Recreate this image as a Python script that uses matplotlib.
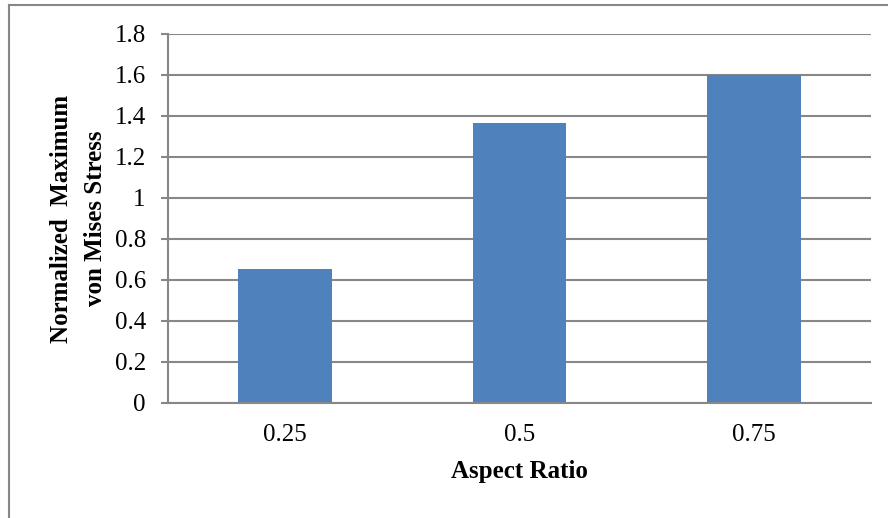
import matplotlib.pyplot as plt
import numpy as np

categories = ["0.25", "0.5", "0.75"]
values = [0.655, 1.365, 1.60]
yticks = [0, 0.2, 0.4, 0.6, 0.8, 1, 1.2, 1.4, 1.6, 1.8]
ytick_labels = ["0", "0.2", "0.4", "0.6", "0.8", "1", "1.2", "1.4", "1.6", "1.8"]

plt.rcParams['font.family'] = ['Liberation Serif', 'DejaVu Serif']

fig = plt.figure(figsize=(8.88, 5.18), dpi=100)
ax = fig.add_axes([168/888, 1 - 402.7/518, (871 - 168)/888, (402.7 - 34)/518])

x = np.arange(len(categories))
ax.bar(x, values, width=0.4, color='#4F81BD', zorder=2)

ax.set_xlim(-0.5, 2.5)
ax.set_ylim(0, 1.8)
ax.set_yticks(yticks)
ax.set_yticklabels(ytick_labels)
ax.set_xticks(x)
ax.set_xticklabels(categories)
ax.grid(axis='y', color='#878787', linewidth=1.5, zorder=0)
ax.set_axisbelow(True)

for s in ['top', 'right']:
    ax.spines[s].set_visible(False)
for s in ['left', 'bottom']:
    ax.spines[s].set_color('#878787')
    ax.spines[s].set_linewidth(1.5)

ax.tick_params(axis='y', length=5, width=1.5, color='#878787', pad=11, labelsize=18)
ax.tick_params(axis='x', length=0, pad=15, labelsize=18)

ax.set_xlabel("Aspect Ratio", fontsize=18, fontweight='bold')
ax.xaxis.set_label_coords(0.5, -0.155)

fig.text(78.5/888, 1 - 218.5/518, "Normalized  Maximum\nvon Mises Stress",
         rotation=90, ha='center', va='center', multialignment='center',
         fontsize=18, fontweight='bold', linespacing=1.6)

# chart border (right/bottom edges fall outside the image)
fig.add_artist(plt.Line2D([9/888, 9/888], [0, 1 - 5/518], transform=fig.transFigure,
                          color='#878787', linewidth=1.5))
fig.add_artist(plt.Line2D([9/888, 1], [1 - 5/518, 1 - 5/518], transform=fig.transFigure,
                          color='#878787', linewidth=1.5))

fig.savefig("out.png", dpi=100)
